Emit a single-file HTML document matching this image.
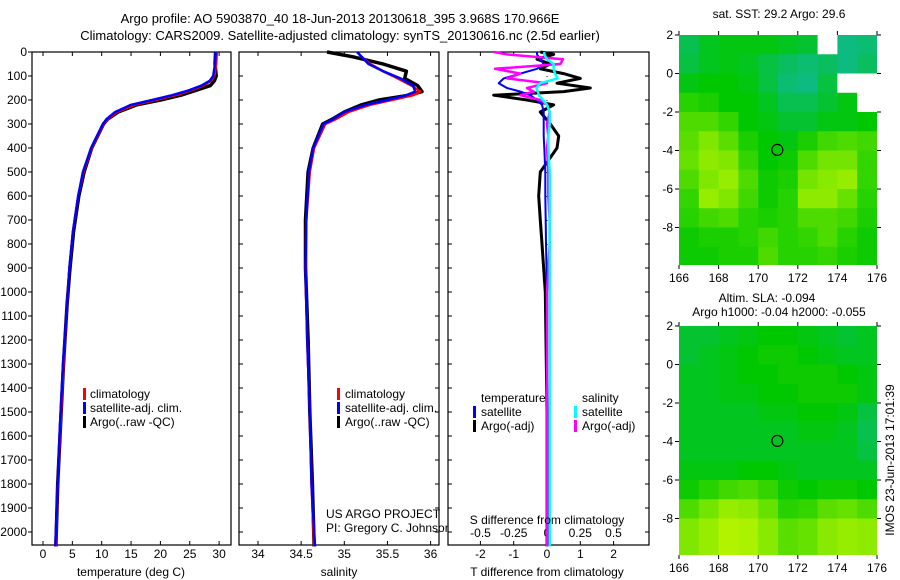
<!DOCTYPE html>
<html><head><meta charset="utf-8"><style>
body{margin:0;background:#fff;}
svg{display:block;font-family:"Liberation Sans",sans-serif;font-size:12px;}
</style></head><body>
<svg id="c" width="900" height="580" viewBox="0 0 900 580">
<text x="340" y="23" text-anchor="middle" font-size="13">Argo profile: AO 5903870_40 18-Jun-2013 20130618_395 3.968S 170.966E</text>
<text x="340" y="40" text-anchor="middle" font-size="13">Climatology: CARS2009. Satellite-adjusted climatology: synTS_20130616.nc (2.5d earlier)</text>
</svg>
<script>
// ---- data ----
const depthT = [0,50,100,120,140,160,180,200,220,250,280,300,350,400,500,600,750,900,1050,1300,1550,1800,2060];
const tempClim = [29.6,29.5,29.2,28.6,27.3,25.2,22.6,19.2,15.6,12.6,11.0,10.3,9.3,8.3,6.9,6.0,5.1,4.5,4.1,3.5,3.0,2.5,2.2];
const tempSat  = [29.4,29.3,29.0,28.4,27.0,24.8,22.0,18.6,15.0,12.3,10.8,10.2,9.2,8.2,6.8,6.0,5.1,4.5,4.1,3.4,2.9,2.5,2.1];
const tempArgo = [29.4,29.3,29.5,29.2,28.5,26.0,23.5,20.0,16.0,12.8,11.0,10.3,9.3,8.3,7.0,6.1,5.2,4.6,4.1,3.5,3.0,2.5,2.2];
const depthS = [0,20,50,80,110,140,165,180,200,220,250,280,300,400,500,700,900,1200,1500,1800,2060];
const salClim = [35.15,35.2,35.3,35.45,35.62,35.78,35.88,35.8,35.55,35.3,35.05,34.9,34.78,34.65,34.6,34.56,34.55,34.57,34.6,34.62,34.65];
const salSat  = [35.15,35.2,35.28,35.45,35.65,35.8,35.82,35.72,35.5,35.25,35.0,34.87,34.76,34.64,34.59,34.56,34.55,34.57,34.6,34.62,34.66];
const salArgo = [34.8,35.1,35.45,35.72,35.7,35.85,35.9,35.75,35.4,35.2,35.0,34.86,34.75,34.64,34.58,34.55,34.55,34.58,34.6,34.63,34.65];
const depthD = [0,10,30,50,70,90,110,130,150,165,180,200,220,250,300,350,400,500,600,700,800,1000,1500,2060];
const dTsat  = [-0.3,-0.3,-0.2,-0.1,-0.3,-0.8,-1.3,-1.45,-1.2,-0.8,-0.5,-0.3,-0.15,-0.1,-0.1,-0.1,-0.08,-0.05,-0.05,-0.04,-0.03,0,0,0];
const dTargo = [-0.2,0.2,-0.3,0.1,-0.2,0.5,1.0,0.3,1.3,0.5,-1.6,-0.6,0.2,-0.2,0.1,0.35,0.3,-0.2,-0.25,-0.2,-0.15,-0.05,0,0];
const dSsat  = [-0.02,-0.02,0.0,0.05,0.05,0.06,0.08,-0.05,-0.08,-0.07,-0.06,-0.03,0.0,0.02,0.02,0.01,0.01,0.02,0.02,0.02,0.02,0.02,0.02,0.02];
const dSargo = [-0.4,-0.3,0.12,0.1,-0.39,-0.2,-0.3,0.0,-0.15,-0.1,-0.2,-0.05,0.0,0.02,0.0,0.01,0.0,0.01,0.01,0.02,0.02,0.0,0.0,0.0];
const depthTicks = [0,100,200,300,400,500,600,700,800,900,1000,1100,1200,1300,1400,1500,1600,1700,1800,1900,2000];
const tempTicks = [0,5,10,15,20,25,30];
const salTicks = [34,34.5,35,35.5,36];
const tdTicks = [-2,-1,0,1,2];
const sdTicks = [-0.5,-0.25,0,0.25,0.5];
const lonTicks = [166,168,170,172,174,176];
const latTicks = [2,0,-2,-4,-6,-8];
// SST map (rows lat 2..-10, cols lon 166..176); -1 = no data; 0 teal .. 3 yellow
const sstGrid = [
[0.5,0.8,0.9,0.9,0.9,0.8,0.7,-1,0.2,0.3],
[0.6,0.8,0.9,0.8,0.6,0.4,0.3,0.4,0.2,0.4],
[0.9,1,1,0.9,0.6,0.3,0.2,0.6,-1,-1],
[1.3,1.2,1,1,0.8,0.5,0.5,0.7,0.9,-1],
[1.6,1.6,1.4,1,0.9,0.7,0.7,0.9,0.9,1],
[1.7,2,1.7,1.2,1,0.9,1.2,1.5,1.6,1.5],
[1.8,2.2,2,1.4,1,1.1,1.6,1.9,1.9,1.4],
[1.6,2,2.3,1.6,1.1,1.2,1.9,2.1,2.3,1.4],
[1.4,2.3,2,1.5,1.1,1.3,2.2,2.2,1.8,1.3],
[1.3,1.5,1.6,1.3,1.2,1.3,1.6,1.6,1.5,1.2],
[1.1,1.2,1.2,1.3,1.5,1.3,1.4,1.6,1.3,1.1],
[1.1,1.1,1.2,1.2,1.6,1.3,1.3,1.4,1.2,1.1]];
const slaGrid = [
[0.7,0.7,0.8,0.9,1,1,0.9,0.8,0.7,0.8],
[0.7,0.8,0.9,1,1.1,1.1,1,0.9,0.8,0.8],
[0.8,0.8,0.9,1,1,1.1,1.1,1.1,1,0.9],
[0.8,0.8,0.9,0.9,1,1,1.1,1.1,1.1,0.9],
[0.8,0.8,0.8,0.8,0.9,0.9,1,1,0.9,0.6],
[0.8,0.8,0.8,0.8,0.8,0.8,0.9,0.9,0.8,0.5],
[0.8,0.8,0.8,0.8,0.8,0.8,0.8,0.8,0.8,0.6],
[0.9,0.9,0.9,1,1,0.9,0.8,0.8,0.8,0.8],
[1.1,1.3,1.5,1.6,1.4,1.1,1,1.1,1.1,1],
[1.6,1.9,2.3,2.2,1.8,1.3,1.4,1.7,1.8,1.6],
[2,2.3,2.7,2.6,2.1,1.7,1.8,2.1,2.3,2.2],
[2,2.3,2.7,2.6,2.1,1.7,1.8,2.1,2.3,2.2]];

// ---- helpers ----
const svg = document.getElementById('c');
const NS = 'http://www.w3.org/2000/svg';
function mk(tag, attrs, parent){ const e=document.createElementNS(NS,tag); for(const k in attrs) e.setAttribute(k,attrs[k]); (parent||svg).appendChild(e); return e; }
function txt(x,y,s,anchor,parent){ const t=mk('text',{x:x,y:y,'text-anchor':anchor||'start'},parent); t.textContent=s; return t; }
const TOP=52, BOT=545;
const yD = d => TOP + d*0.24;
function panel(x0,x1,name){
  const r=mk('rect',{x:x0,y:TOP,width:x1-x0,height:BOT-TOP,fill:'#fff',stroke:'#000','stroke-width':1.2});
  
  
}
function profile(depths, vals, xf, color, w, name){
  const pts = depths.map((d,i)=>xf(vals[i]).toFixed(1)+','+yD(d).toFixed(1)).join(' ');
  const p=mk('polyline',{points:pts,fill:'none',stroke:color,'stroke-width':w,'stroke-linejoin':'round'});
  
  
}
function xTicks(ticks, xf, labelY, withLabels){
  ticks.forEach(t=>{
    const x=xf(t);
    mk('line',{x1:x,x2:x,y1:BOT,y2:BOT-4,stroke:'#000'});
    mk('line',{x1:x,x2:x,y1:TOP,y2:TOP+4,stroke:'#000'});
    if(withLabels){ const e=txt(x,labelY,String(t),'middle');
      
       }
  });
}
function legendEntry(bx,tx,y,color,label){
  const b=mk('rect',{x:bx,y:y-10,width:3,height:12,fill:color});
  
  
  const t=txt(tx,y,label);
  
  
}

// ---- panel 1: temperature ----
const xT = v => 43 + v*5.87;
panel(32,231,'temperature-panel');
depthTicks.forEach(d=>{
  mk('line',{x1:28,x2:32,y1:yD(d),y2:yD(d),stroke:'#000'});
  const t=txt(27,yD(d)+4,String(d),'end');
  
  
});
xTicks(tempTicks,xT,558,true);
profile(depthT,tempArgo,xT,'#000',3.5,'temp-argo-line');
profile(depthT,tempClim,xT,'#f00',2.5,'temp-climatology-line');
profile(depthT,tempSat,xT,'#00f',2.5,'temp-satellite-line');
legendEntry(83,90,398,'#f00','climatology');
legendEntry(83,90,412,'#00f','satellite-adj. clim.');
legendEntry(83,90,426,'#000','Argo(..raw -QC)');
let at=txt(131,576,'temperature (deg C)','middle');  

// ---- panel 2: salinity ----
const xS = v => 258 + (v-34)*86.3;
panel(239,439,'salinity-panel');
depthTicks.forEach(d=>{ mk('line',{x1:239,x2:243,y1:yD(d),y2:yD(d),stroke:'#000'}); mk('line',{x1:435,x2:439,y1:yD(d),y2:yD(d),stroke:'#000'}); });
xTicks(salTicks,xS,558,true);
profile(depthS,salArgo,xS,'#000',3.5,'sal-argo-line');
profile(depthS,salClim,xS,'#f00',2.5,'sal-climatology-line');
profile(depthS,salSat,xS,'#00f',2.5,'sal-satellite-line');
legendEntry(337,345,398,'#f00','climatology');
legendEntry(337,345,412,'#00f','satellite-adj. clim.');
legendEntry(337,345,426,'#000','Argo(..raw -QC)');
let c1=txt(326,518,'US ARGO PROJECT');  
let c2=txt(326,532,'PI: Gregory C. Johnson');  
let st=txt(339,576,'salinity','middle');  

// ---- panel 3: differences ----
const xTD = v => 547 + v*33.3;
const xSD = v => 547 + v*133;
panel(448,649,'difference-panel');
depthTicks.forEach(d=>{ mk('line',{x1:448,x2:452,y1:yD(d),y2:yD(d),stroke:'#000'}); mk('line',{x1:645,x2:649,y1:yD(d),y2:yD(d),stroke:'#000'}); });
xTicks(tdTicks,xTD,558,true);
sdTicks.forEach(t=>{ const e=txt(xSD(t),537,String(t),'middle');   });
depthTicks.forEach(d=>{ mk('rect',{x:546.5,y:yD(d),width:1,height:1,fill:'#000'}); });
profile(depthD,dTargo,xTD,'#000',3,'tdiff-argo-line');
profile(depthD,dTsat,xTD,'#00f',2,'tdiff-satellite-line');
profile(depthD,dSargo,xSD,'#f0f',2.5,'sdiff-argo-line');
profile(depthD,dSsat,xSD,'#0ff',2.5,'sdiff-satellite-line');
let l1=txt(481,402,'temperature');  
let l2=txt(582,402,'salinity');  
legendEntry(473,481,416,'#00f','satellite');
legendEntry(473,481,430,'#000','Argo(-adj)');
legendEntry(574,582,416,'#0ff','satellite');
legendEntry(574,582,430,'#f0f','Argo(-adj)');
let sd=txt(547,524,'S difference from climatology','middle');  
let td=txt(547,576,'T difference from climatology','middle');  

// ---- maps ----
function colorOf(v){
  if(v<0) return '#fff';
  const stops=[[0,[16,184,160]],[1,[0,200,0]],[2,[128,232,0]],[3,[200,248,0]]];
  for(let i=0;i<3;i++){ if(v<=stops[i+1][0]){ const f=(v-stops[i][0]); const a=stops[i][1],b=stops[i+1][1];
    return 'rgb('+a.map((c,j)=>Math.round(c+(b[j]-c)*f)).join(',')+')'; } }
  return 'rgb(200,248,0)';
}
function map(grid, top, bottom, name, labelY){
  const L=679,R=877;
  const xL = lon => L + (lon-166)*(R-L)/10;
  const yL = lat => top + (2-lat)*19.25;
  const g=mk('g',{});
  
  
  const cp=mk('clipPath',{id:name+'-clip'},g); mk('rect',{x:L,y:top,width:R-L,height:bottom-top},cp);
  const cg=mk('g',{'clip-path':'url(#'+name+'-clip)'},g);
  grid.forEach((row,r)=>row.forEach((v,c)=>{
    const cell=mk('rect',{x:xL(166+c),y:yL(2-r),width:(R-L)/10+0.5,height:19.75,fill:colorOf(v)},cg);
    
    
  }));
  lonTicks.forEach(lon=>{ mk('line',{x1:xL(lon),x2:xL(lon),y1:top-4,y2:top,stroke:'#000'},g); mk('line',{x1:xL(lon),x2:xL(lon),y1:bottom,y2:bottom+4,stroke:'#000'},g);
    txt(xL(lon),labelY,String(lon),'middle',g); });
  latTicks.forEach(lat=>{ mk('line',{x1:L-4,x2:L,y1:yL(lat),y2:yL(lat),stroke:'#000'},g); mk('line',{x1:R,x2:R+4,y1:yL(lat),y2:yL(lat),stroke:'#000'},g);
    txt(673,yL(lat)+4,String(lat),'end',g); });
  const circ=mk('circle',{cx:xL(170.966),cy:yL(-3.968),r:5.5,fill:'none',stroke:'#000','stroke-width':1.2},g);
  
  
}
map(sstGrid,35,265,'sst-map',282);
map(slaGrid,326,555,'sla-map',572);
let m1=txt(779,18,'sat. SST: 29.2 Argo: 29.6','middle');  
let m2=txt(767,302,'Altim. SLA: -0.094','middle');  
let m3=txt(779,316,'Argo h1000: -0.04 h2000: -0.055','middle');  
let im=txt(0,0,'IMOS 23-Jun-2013 17:01:39','middle'); im.setAttribute('transform','translate(894,460) rotate(-90)');
 
</script>
</body></html>
